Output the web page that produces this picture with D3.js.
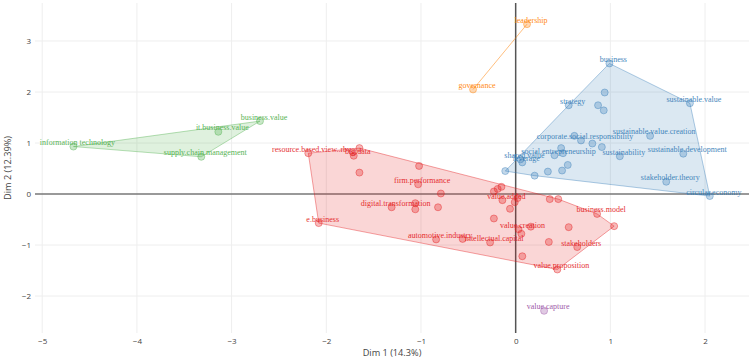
<!DOCTYPE html>
<html lang="en">
<head>
<meta charset="UTF-8">
<title>Dim 1 / Dim 2 clusters</title>
<style>
    body { margin: 0; background: #fff; }
    .tick text { font-family: "Open Sans", sans-serif; font-size: 8px; fill: #444; }
    .axis-title { font-family: "Open Sans", sans-serif; font-size: 9.2px; fill: #444; }
    .lbl { font-family: "Liberation Serif", serif; font-size: 8px; }
</style>
</head>
<body>
<div id="chart"></div>
<script src="https://d3js.org/d3.v7.min.js"></script>
<script>
    // cluster 1 (blue)
    const blueLabels = ["business", "", "strategy", "", "", "sustainable.value", "", "corporate.social.responsibility", "", "",
        "sustainable.value.creation", "sustainability", "sustainable.development", "", "", "social.entrepreneurship", "", "", "", "",
        "shared.value", "leverage", "", "stakeholder.theory", "circular.economy"];
    const blueX = [0.99, 0.94, 0.56, 0.87, 0.93, 1.84, 0.62, 0.69, 0.81, 0.91,
        1.42, 1.10, 1.77, 0.48, 0.50, 0.41, 0.55, 0.49, 0.34, 0.20,
        0.05, 0.07, -0.11, 1.59, 2.05];
    const blueY = [2.56, 1.99, 1.74, 1.74, 1.64, 1.78, 1.14, 1.05, 0.99, 0.92,
        1.14, 0.74, 0.79, 0.90, 0.80, 0.76, 0.57, 0.46, 0.44, 0.36,
        0.68, 0.62, 0.45, 0.24, -0.04];

    // cluster 2 (red)
    const redLabels = ["resource.based.view..rbv.", "", "big.data", "", "", "", "firm.performance", "e.business",
        "digital.transformation", "", "", "", "", "automotive.industry", "", "intellectual.capital", "",
        "value.added", "", "", "", "", "", "", "value.creation", "", "", "", "", "business.model", "", "", "",
        "stakeholders", "", "value.proposition"];
    const redX = [-2.19, -1.65, -1.71, -1.72, -1.65, -1.02, -1.03, -2.08,
        -1.31, -1.06, -1.06, -0.82, -0.79, -0.84, -0.56, -0.27, -0.23,
        -0.14, -0.23, -0.19, -0.15, -0.06, -0.01, 0.02, 0.03, 0.06, 0.16, 0.36, 0.45, 0.86, 1.04, 0.56, 0.35,
        0.65, 0.07, 0.44];
    const redY = [0.80, 0.90, 0.75, 0.82, 0.42, 0.55, 0.19, -0.57,
        -0.26, -0.18, -0.30, -0.26, 0.01, -0.89, -0.88, -0.95, -0.48,
        -0.12, 0.05, 0.10, 0.14, -0.29, -0.16, -0.08, -0.69, -0.78, -0.64, -0.10, -0.10, -0.39, -0.63, -0.65, -0.94,
        -1.04, -1.22, -1.48];

    // cluster 3 (green)
    const greenLabels = ["information technology", "it.business.value", "supply.chain.management", "business.value"];
    const greenX = [-4.67, -3.14, -3.32, -2.70];
    const greenY = [0.93, 1.22, 0.73, 1.43];

    // cluster 4 (purple)
    const purpleLabels = ["value.capture"];
    const purpleX = [0.30];
    const purpleY = [-2.29];

    // cluster 5 (orange)
    const orangeLabels = ["leadership", "governance"];
    const orangeX = [0.12, -0.45];
    const orangeY = [3.33, 2.05];

    const xTicks = [-5, -4, -3, -2, -1, 0, 1, 2];
    const yTicks = [-2, -1, 0, 1, 2, 3];

    const clusters = [
        { labels: blueLabels, xs: blueX, ys: blueY, color: "#377EB8" },
        { labels: redLabels, xs: redX, ys: redY, color: "#E41A1C" },
        { labels: greenLabels, xs: greenX, ys: greenY, color: "#4DAF4A" },
        { labels: purpleLabels, xs: purpleX, ys: purpleY, color: "#984EA3" },
        { labels: orangeLabels, xs: orangeX, ys: orangeY, color: "#FF7F00" }
    ];

    const width = 751, height = 361;
    const plotLeft = 35, plotRight = 749, plotTop = 3, plotBottom = 333;

    const x = d3.scaleLinear().domain([-5.076, 2.464]).range([plotLeft, plotRight]);
    const y = d3.scaleLinear().domain([-2.725, 3.745]).range([plotBottom, plotTop]);

    const svg = d3.select("#chart").append("svg")
        .attr("width", width)
        .attr("height", height);

    // grid
    svg.append("g").selectAll("line")
        .data(xTicks.filter(d => d !== 0))
        .enter().append("line")
        .attr("x1", d => x(d)).attr("x2", d => x(d))
        .attr("y1", plotTop).attr("y2", plotBottom)
        .attr("stroke", "#eee");
    svg.append("g").selectAll("line")
        .data(yTicks.filter(d => d !== 0))
        .enter().append("line")
        .attr("x1", plotLeft).attr("x2", plotRight)
        .attr("y1", d => y(d)).attr("y2", d => y(d))
        .attr("stroke", "#eee");

    // axes (labels only)
    const fmt = d3.format("d");
    const xAxis = svg.append("g")
        .attr("transform", `translate(0,${plotBottom})`)
        .call(d3.axisBottom(x).tickValues(xTicks).tickFormat(fmt).tickSize(0).tickPadding(5));
    const yAxis = svg.append("g")
        .attr("transform", `translate(${plotLeft},0)`)
        .call(d3.axisLeft(y).tickValues(yTicks).tickFormat(fmt).tickSize(0).tickPadding(4));
    xAxis.select(".domain").remove();
    yAxis.select(".domain").remove();

    // zero lines
    svg.append("line")
        .attr("x1", plotLeft).attr("x2", plotRight)
        .attr("y1", y(0)).attr("y2", y(0))
        .attr("stroke", "#777").attr("stroke-width", 1.3);
    svg.append("line")
        .attr("x1", x(0)).attr("x2", x(0))
        .attr("y1", plotTop).attr("y2", plotBottom)
        .attr("stroke", "#555").attr("stroke-width", 1.5);

    // hulls, points, labels
    clusters.forEach(c => {
        const pts = c.xs.map((v, i) => [x(v), y(c.ys[i])]);
        const g = svg.append("g");

        if (pts.length > 2) {
            const hull = d3.polygonHull(pts);
            g.append("path")
                .attr("d", "M" + hull.join("L") + "Z")
                .attr("fill", c.color).attr("fill-opacity", 0.18)
                .attr("stroke", c.color).attr("stroke-opacity", 0.4).attr("stroke-width", 1);
        } else if (pts.length === 2) {
            g.append("path")
                .attr("d", "M" + pts.join("L"))
                .attr("fill", "none")
                .attr("stroke", c.color).attr("stroke-opacity", 0.5).attr("stroke-width", 1);
        }

        g.selectAll("circle")
            .data(pts)
            .enter().append("circle")
            .attr("cx", d => d[0]).attr("cy", d => d[1])
            .attr("r", 3.5)
            .attr("fill", c.color).attr("fill-opacity", 0.3)
            .attr("stroke", c.color).attr("stroke-opacity", 0.4);

        // group opacity keeps the small labels in plain greyscale antialiasing
        g.append("g")
            .attr("opacity", 0.92)
            .selectAll("text")
            .data(pts.map((p, i) => ({ p, t: c.labels[i] })).filter(d => d.t))
            .enter().append("text")
            .attr("class", "lbl")
            .attr("x", d => d.p[0] + 4)
            .attr("y", d => d.p[1] - 1.5)
            .attr("text-anchor", "middle")
            .attr("fill", c.color)
            .text(d => d.t);
    });

    // axis titles
    svg.append("text")
        .attr("class", "axis-title")
        .attr("x", (plotLeft + plotRight) / 2)
        .attr("y", 356)
        .attr("text-anchor", "middle")
        .text("Dim 1 (14.3%)");
    svg.append("text")
        .attr("class", "axis-title")
        .attr("transform", `translate(11,${(plotTop + plotBottom) / 2}) rotate(-90)`)
        .attr("text-anchor", "middle")
        .text("Dim 2 (12.39%)");
</script>
</body>
</html>
